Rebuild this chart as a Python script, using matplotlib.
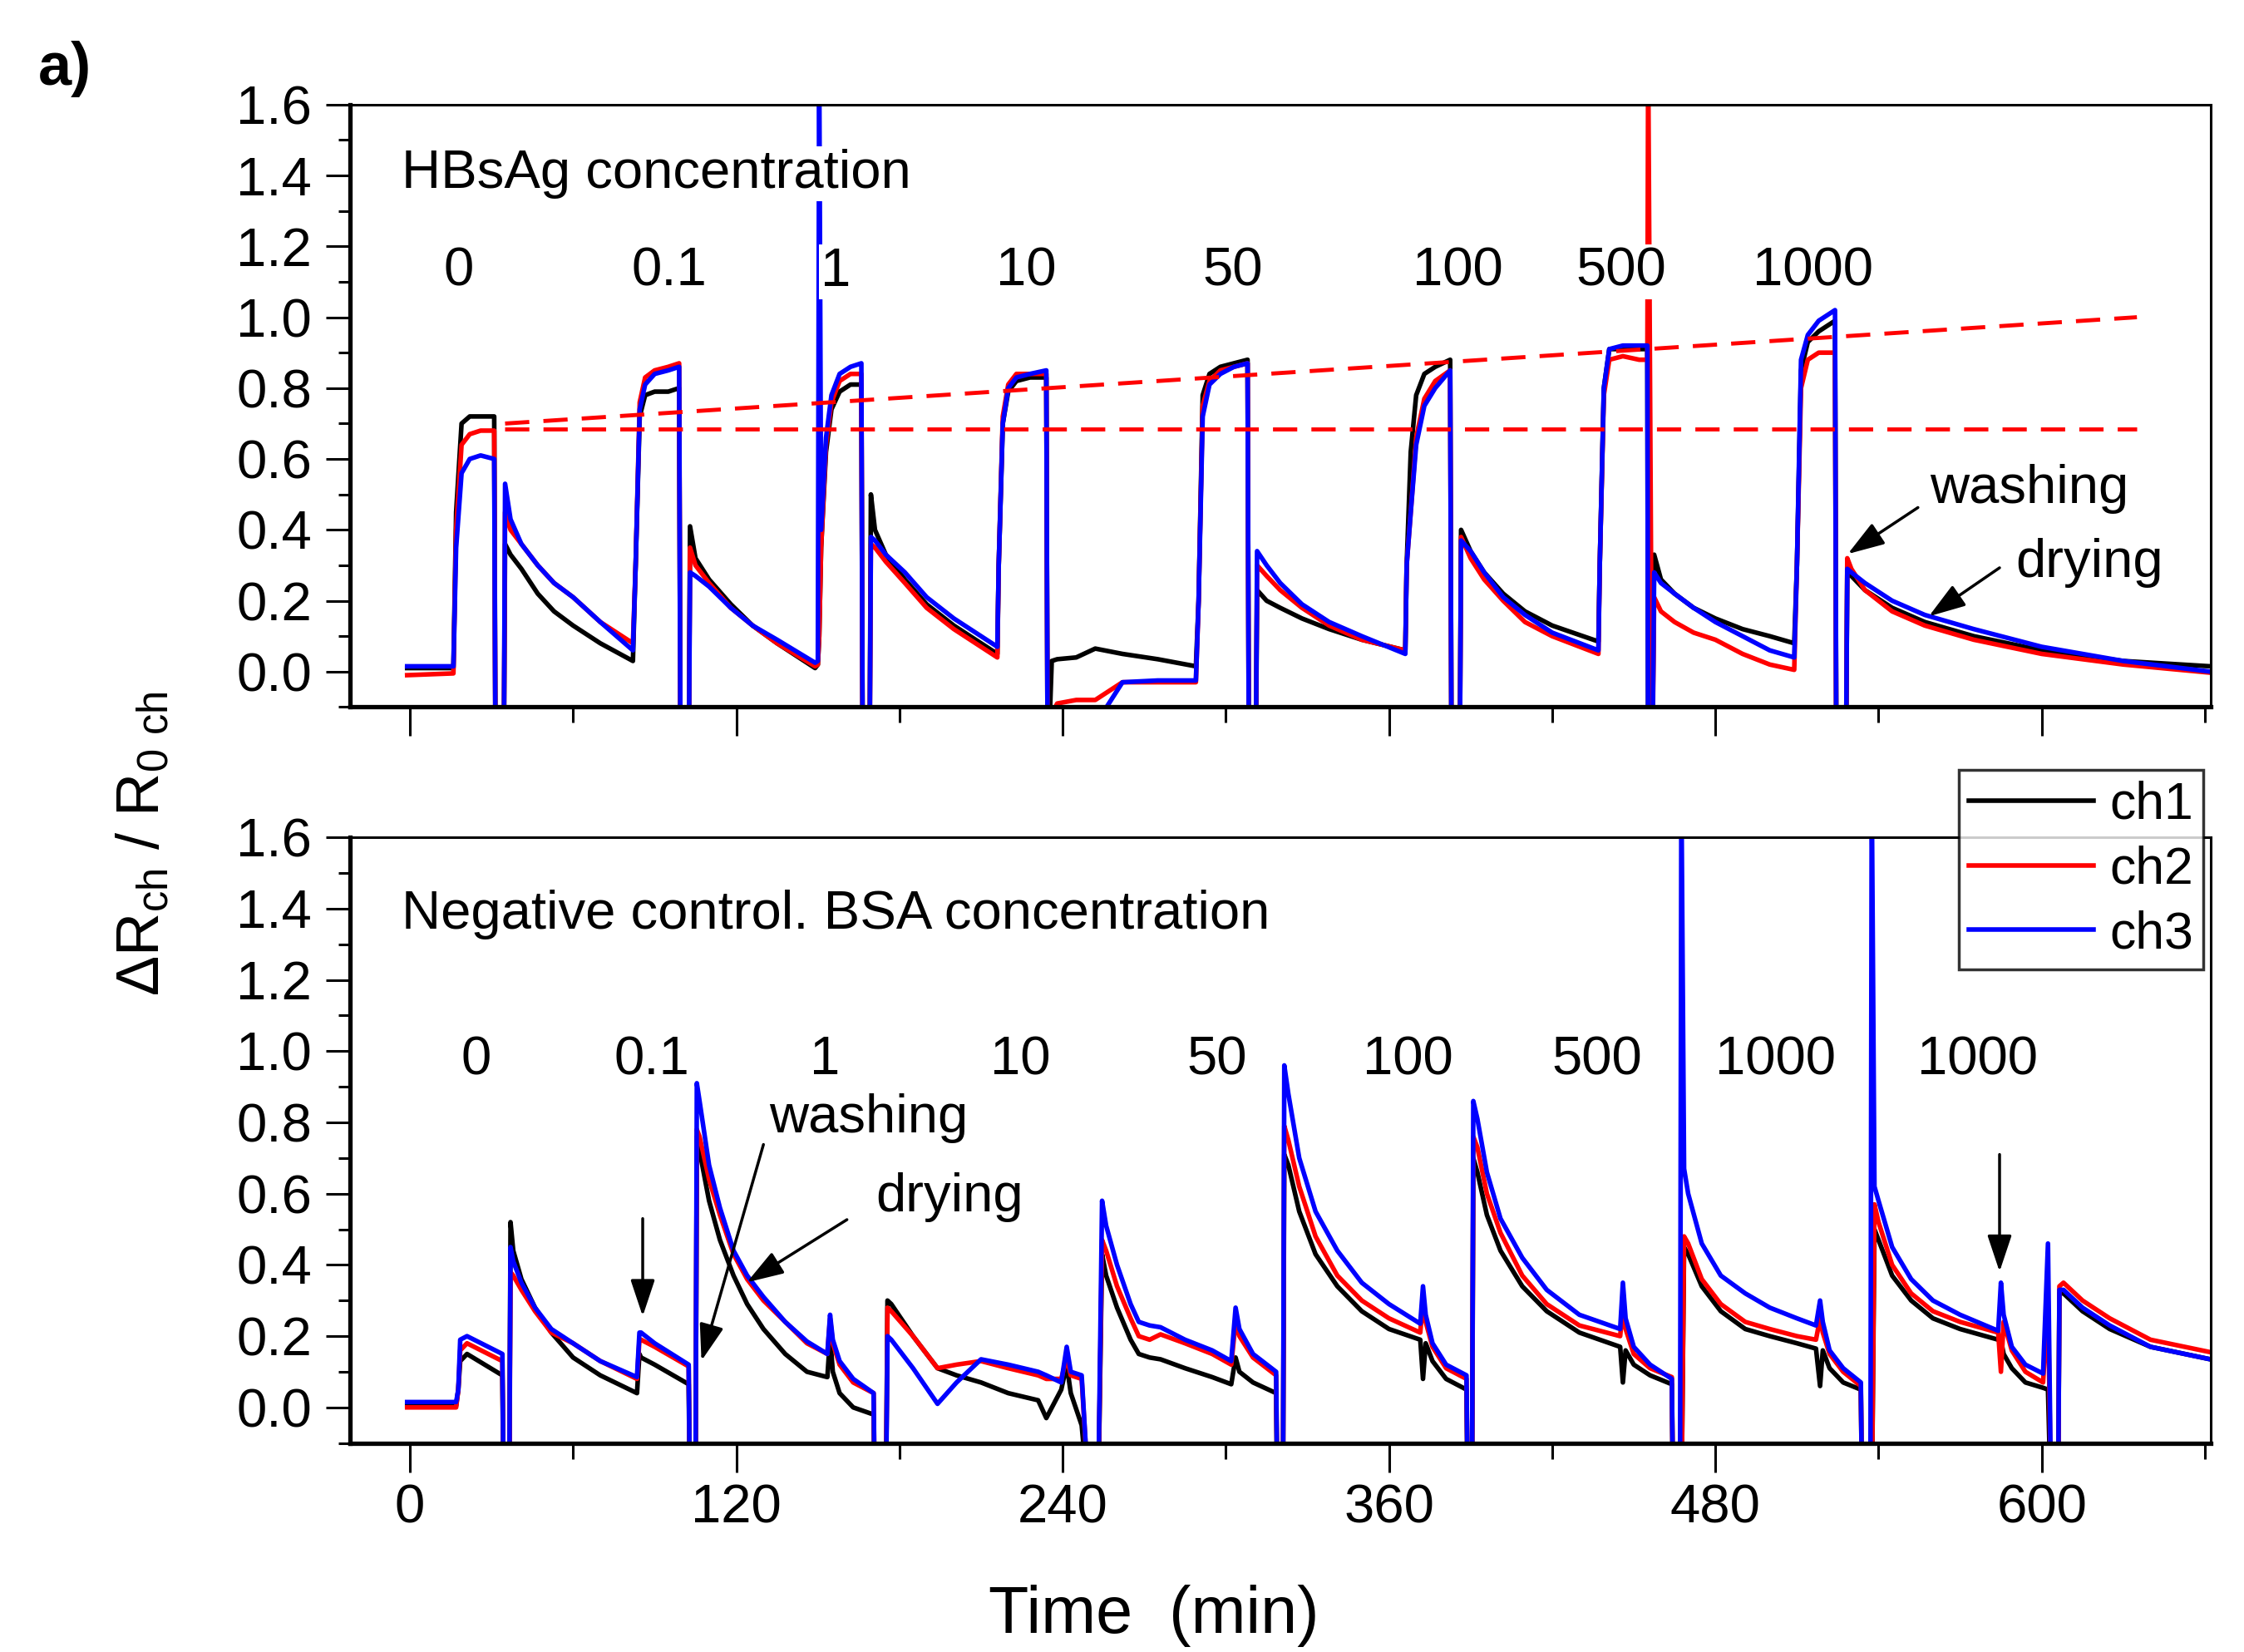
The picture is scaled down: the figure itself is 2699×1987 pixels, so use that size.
import matplotlib
matplotlib.use("Agg")
import matplotlib.pyplot as plt
from matplotlib.ticker import MultipleLocator

plt.rcParams['font.family'] = ['Liberation Sans', 'DejaVu Sans']
plt.rcParams['mathtext.default'] = 'regular'

# ---- data (time in min, dR/R0) ----
top_t = [
    -1, 16,
    17, 19, 22, 26, 31,
    31.5, 34.5,
    35, 37, 41, 47, 53, 60, 70, 82,
    83, 84.5, 86.5, 90, 95, 99,
    99.5, 102.5,
    103, 105, 110, 118, 126, 135, 149,
    150, 150.5, 151.2, 153, 155, 158, 162, 166,
    166.5, 169,
    169.5, 171, 175, 182, 190, 200, 216,
    216.5, 218, 220, 223, 228, 234,
    234.5, 236, 238, 245, 252, 262, 275, 289,
    290, 291.5, 294, 298, 303, 308,
    308.5, 311,
    311.5, 315, 320, 328, 338, 350, 366,
    366.5, 368, 370, 373, 377, 382.5,
    383, 386,
    386.5, 390, 395, 402, 410, 420, 437,
    437.5, 439, 441, 446, 452, 455,
    455.3, 456.8,
    457.5, 460, 465, 472, 480, 490, 500, 509,
    510, 511.5, 514, 518, 524,
    524.5, 528,
    528.5, 530, 535, 545, 557, 575, 600, 630, 662,
]
top_ch1 = [
    0.01, 0.01,
    0.45, 0.70, 0.72, 0.72, 0.72,
    -0.3, -0.3,
    0.36, 0.33, 0.29, 0.22, 0.17, 0.13, 0.08, 0.03,
    0.30, 0.72, 0.78, 0.79, 0.79, 0.80,
    -0.3, -0.3,
    0.41, 0.32, 0.26, 0.19, 0.13, 0.08, 0.01,
    0.02, 0.10, 0.35, 0.62, 0.74, 0.79, 0.81, 0.81,
    -0.3, -0.3,
    0.50, 0.40, 0.33, 0.26, 0.19, 0.13, 0.05,
    0.30, 0.70, 0.79, 0.82, 0.83, 0.83,
    -0.3, 0.03, 0.035, 0.04, 0.065, 0.05, 0.035, 0.015,
    0.20, 0.78, 0.84, 0.86, 0.87, 0.88,
    -0.3, -0.3,
    0.23, 0.20, 0.18, 0.15, 0.12, 0.09, 0.06,
    0.30, 0.62, 0.78, 0.84, 0.86, 0.88,
    -0.3, -0.3,
    0.40, 0.34, 0.28, 0.22, 0.17, 0.13, 0.085,
    0.30, 0.80, 0.91, 0.91, 0.91, 0.91,
    -0.3, -0.3,
    0.33, 0.26, 0.22, 0.18, 0.15, 0.12, 0.10, 0.08,
    0.30, 0.85, 0.93, 0.96, 0.99,
    -0.3, -0.3,
    0.29, 0.27, 0.23, 0.18, 0.14, 0.10, 0.06, 0.03, 0.015,
]
top_ch2 = [
    -0.01, -0.005,
    0.40, 0.64, 0.67, 0.68, 0.68,
    -0.3, -0.3,
    0.45, 0.40, 0.36, 0.30, 0.25, 0.21, 0.14, 0.08,
    0.30, 0.76, 0.83, 0.85, 0.86, 0.87,
    -0.3, -0.3,
    0.35, 0.30, 0.25, 0.18, 0.13, 0.08, 0.015,
    0.02, 0.10, 0.35, 0.64, 0.76, 0.82, 0.84, 0.84,
    -0.3, -0.3,
    0.36, 0.35, 0.31, 0.25, 0.18, 0.12, 0.04,
    0.30, 0.72, 0.81, 0.84, 0.84, 0.84,
    -0.3, -0.12, -0.09, -0.08, -0.08, -0.03, -0.03, -0.03,
    0.20, 0.75, 0.82, 0.85, 0.86, 0.87,
    -0.3, -0.3,
    0.30, 0.27, 0.23, 0.18, 0.13, 0.09, 0.06,
    0.30, 0.45, 0.66, 0.77, 0.82, 0.85,
    -0.3, -0.3,
    0.38, 0.32, 0.26, 0.20, 0.14, 0.10, 0.05,
    0.30, 0.78, 0.88, 0.89, 0.88, 0.88,
    1.75, -0.3,
    0.21, 0.17, 0.14, 0.11, 0.09, 0.05, 0.02, 0.005,
    0.30, 0.80, 0.88, 0.90, 0.90,
    -0.3, -0.3,
    0.32, 0.29, 0.23, 0.17, 0.13, 0.09, 0.05, 0.02, -0.003,
]
top_ch3 = [
    0.015, 0.015,
    0.35, 0.56, 0.60, 0.61, 0.60,
    -0.3, -0.3,
    0.53, 0.43, 0.36, 0.30, 0.25, 0.21, 0.14, 0.06,
    0.30, 0.74, 0.81, 0.84, 0.85, 0.86,
    -0.3, -0.3,
    0.28, 0.27, 0.24, 0.18, 0.13, 0.09, 0.025,
    0.03, 1.75, 0.40, 0.66, 0.78, 0.84, 0.86, 0.87,
    -0.3, -0.3,
    0.38, 0.37, 0.33, 0.28, 0.21, 0.15, 0.07,
    0.30, 0.70, 0.80, 0.83, 0.84, 0.85,
    -0.3, -0.3, -0.3, -0.3, -0.15, -0.03, -0.025, -0.025,
    0.20, 0.72, 0.81, 0.84, 0.86, 0.87,
    -0.3, -0.3,
    0.34, 0.30, 0.25, 0.19, 0.14, 0.10, 0.05,
    0.30, 0.45, 0.64, 0.75, 0.80, 0.85,
    -0.3, -0.3,
    0.37, 0.34, 0.28, 0.21, 0.16, 0.11, 0.06,
    0.30, 0.80, 0.91, 0.92, 0.92, 0.92,
    -0.3, -0.3,
    0.28, 0.25, 0.22, 0.18, 0.14, 0.10, 0.06, 0.04,
    0.30, 0.88, 0.95, 0.99, 1.02,
    -0.3, -0.3,
    0.29, 0.28, 0.25, 0.20, 0.16, 0.12, 0.07, 0.03, 0.0,
]

bot_t = [
    -1, 17,
    17.8, 18.5, 21, 34,
    34.5, 36.5,
    37, 38, 41, 46, 52, 60, 70, 83.5,
    84.4, 85, 90, 102.5,
    103, 105,
    105.5, 106.5, 110, 114, 119, 124, 130, 138, 146, 153.5,
    154.5, 155.5, 158, 163, 170.5,
    171, 175,
    175.6, 177, 185, 194, 201, 210, 220, 231, 234, 239.5,
    241.5, 243, 247, 250, 253,
    254.5, 256, 260, 265, 268, 272, 276, 285, 295, 302,
    303.6, 305, 310, 318.5,
    319, 321,
    321.5, 323, 327, 333, 341, 350, 360, 371.5,
    372.5, 373.5, 376, 381, 388.5,
    389, 390.5,
    391, 392.5, 396, 401, 409, 418, 430, 445,
    446, 447, 450, 456, 464,
    464.5, 467,
    467.5, 468.5, 470, 475, 482, 491, 500, 510, 517,
    518.5, 519.5, 522, 527, 533.5,
    534, 537,
    537.5, 538.5, 540, 545, 552, 560, 570, 584,
    585, 586, 589, 594, 600.5,
    602.3, 603.5, 606,
    606.5, 608, 615, 625, 640, 662,
]
bot_ch1 = [
    0.005, 0.005,
    0.05, 0.13, 0.15, 0.09,
    -0.3, -0.3,
    0.52, 0.44, 0.36, 0.28, 0.21, 0.14, 0.09, 0.04,
    0.15, 0.14, 0.12, 0.065,
    -0.3, -0.3,
    0.76, 0.72, 0.58, 0.47, 0.37, 0.29, 0.22, 0.15, 0.10, 0.085,
    0.20, 0.10, 0.04, 0.0, -0.02,
    -0.3, -0.3,
    0.30, 0.29, 0.20, 0.11, 0.09, 0.07, 0.04, 0.02, -0.03, 0.05,
    0.12, 0.04, -0.05, -0.3, -0.3,
    0.43, 0.37, 0.28, 0.19, 0.15, 0.14, 0.135, 0.11, 0.085, 0.065,
    0.14, 0.10, 0.07, 0.04,
    -0.3, -0.3,
    0.71, 0.68, 0.55, 0.43, 0.34, 0.27, 0.22, 0.19,
    0.08, 0.18, 0.13, 0.08, 0.05,
    -0.3, -0.3,
    0.70, 0.66, 0.54, 0.44, 0.34, 0.27, 0.21, 0.17,
    0.07, 0.16, 0.12, 0.09, 0.065,
    -0.3, -0.3,
    -0.3, 0.45, 0.43, 0.34, 0.27, 0.22, 0.20, 0.18, 0.165,
    0.06, 0.16, 0.11, 0.07, 0.05,
    -0.3, -0.3,
    -0.3, 0.50, 0.47, 0.37, 0.30, 0.25, 0.22, 0.19,
    0.19, 0.15, 0.11, 0.07, 0.055,
    0.05, -0.3, -0.3,
    0.32, 0.32, 0.27, 0.22, 0.17, 0.135,
]
bot_ch2 = [
    0.0, 0.0,
    0.05, 0.16, 0.18, 0.13,
    -0.3, -0.3,
    0.38, 0.37, 0.33, 0.27, 0.21, 0.18, 0.13, 0.08,
    0.19, 0.19, 0.17, 0.115,
    -0.3, -0.3,
    0.78, 0.76, 0.64, 0.54, 0.43, 0.36, 0.30, 0.24, 0.18, 0.15,
    0.25, 0.18, 0.12, 0.07, 0.04,
    -0.3, -0.3,
    0.28, 0.27, 0.20, 0.11, 0.12, 0.13, 0.11, 0.09, 0.08, 0.08,
    0.14, 0.09, 0.08, -0.3, -0.3,
    0.47, 0.44, 0.34, 0.25, 0.20, 0.19, 0.205, 0.18, 0.15, 0.12,
    0.24, 0.20, 0.14, 0.09,
    -0.3, -0.3,
    0.79, 0.75, 0.62, 0.48, 0.37, 0.30, 0.25, 0.21,
    0.30, 0.24, 0.17, 0.11, 0.08,
    -0.3, -0.3,
    0.76, 0.73, 0.60, 0.49, 0.37, 0.29, 0.23, 0.20,
    0.28, 0.22, 0.15, 0.11, 0.085,
    -0.3, -0.3,
    -0.3, 0.48, 0.46, 0.36, 0.29, 0.24, 0.22, 0.20, 0.19,
    0.25, 0.21, 0.15, 0.10, 0.06,
    -0.3, -0.3,
    -0.3, 0.57, 0.52, 0.40, 0.32, 0.27, 0.24, 0.21,
    0.10, 0.24, 0.16, 0.10, 0.07,
    0.30, -0.3, -0.3,
    0.34, 0.35, 0.30, 0.25, 0.19, 0.155,
]
bot_ch3 = [
    0.015, 0.015,
    0.05, 0.19, 0.20, 0.15,
    -0.3, -0.3,
    0.45, 0.41, 0.35, 0.28, 0.22, 0.18, 0.13, 0.085,
    0.21, 0.21, 0.18, 0.12,
    -0.3, -0.3,
    0.91, 0.86, 0.68, 0.56, 0.44, 0.37, 0.31, 0.24, 0.185, 0.15,
    0.26, 0.19, 0.13, 0.08, 0.04,
    -0.3, -0.3,
    0.20, 0.19, 0.11, 0.01, 0.07, 0.135, 0.12, 0.10, 0.09, 0.07,
    0.17, 0.10, 0.09, -0.3, -0.3,
    0.58, 0.51, 0.40, 0.29, 0.24, 0.23, 0.225, 0.19, 0.16, 0.13,
    0.28, 0.22, 0.15, 0.10,
    -0.3, -0.3,
    0.96, 0.88, 0.70, 0.55, 0.44, 0.35, 0.29, 0.235,
    0.34, 0.26, 0.18, 0.12, 0.09,
    -0.3, -0.3,
    0.86, 0.81, 0.66, 0.53, 0.42, 0.33, 0.26, 0.22,
    0.35, 0.25, 0.17, 0.12, 0.08,
    -0.3, -0.3,
    1.75, 0.67, 0.60, 0.46, 0.37, 0.32, 0.28, 0.25, 0.23,
    0.30, 0.24, 0.16, 0.11, 0.07,
    -0.3, -0.3,
    1.75, 0.62, 0.58, 0.45, 0.36, 0.30, 0.26, 0.215,
    0.35, 0.26, 0.17, 0.12, 0.095,
    0.46, -0.3, -0.3,
    0.33, 0.33, 0.28, 0.23, 0.17, 0.135,
]

# red dashed guide lines in the top panel
guide_t = [35, 635]
guide_flat = [0.684, 0.684]
guide_slope = [0.70, 1.0]

top_labels = ['0', '0.1', '1', '10', '50', '100', '500', '1000']
top_label_t = [17.9, 95.2, 156.7, 226.6, 302.4, 385.4, 445.4, 515.9]
bot_labels = ['0', '0.1', '1', '10', '50', '100', '500', '1000', '1000']
bot_label_t = [24.2, 88.9, 152.5, 224.5, 296.6, 367, 436.4, 502.2, 576.3]

colors = ['black', 'red', 'blue']
names = ['ch1', 'ch2', 'ch3']

fig = plt.figure(figsize=(26.99, 19.87), dpi=100)
ax1 = fig.add_axes([0.156, 0.572, 0.829, 0.3647])
ax2 = fig.add_axes([0.156, 0.1265, 0.829, 0.3666])

FS = 47
LW = 4

def style(ax, show_xlabels):
    ax.set_xlim(-22, 662)
    ax.set_ylim(-0.1, 1.6)
    ax.xaxis.set_major_locator(MultipleLocator(120))
    ax.xaxis.set_minor_locator(MultipleLocator(60))
    ax.yaxis.set_major_locator(MultipleLocator(0.2))
    ax.yaxis.set_minor_locator(MultipleLocator(0.1))
    ax.yaxis.set_major_formatter(plt.FormatStrFormatter('%.1f'))
    ax.tick_params(axis='y', which='major', direction='out', length=21, width=2.2,
                   labelsize=FS, pad=12)
    ax.tick_params(axis='y', which='minor', direction='out', length=10, width=2.2)
    ax.tick_params(axis='x', which='major', direction='out', length=25, width=2.2,
                   labelsize=FS, pad=10, labelbottom=show_xlabels)
    ax.tick_params(axis='x', which='minor', direction='out', length=14, width=2.2)
    for s in ['left', 'bottom']:
        ax.spines[s].set_linewidth(3.8)
    for s in ['top', 'right']:
        ax.spines[s].set_linewidth(2.2)

style(ax1, False)
style(ax2, True)

for vals, c in zip([top_ch1, top_ch2, top_ch3], colors):
    ax1.plot(top_t, vals, color=c, lw=LW)
ax1.plot(guide_t, guide_flat, color='red', lw=3.5, ls=(0, (6, 3.5)))
ax1.plot(guide_t, guide_slope, color='red', lw=3.5, ls=(0, (6, 3.5)))

lines = []
for vals, c, n in zip([bot_ch1, bot_ch2, bot_ch3], colors, names):
    ln, = ax2.plot(bot_t, vals, color=c, lw=LW, label=n)
    lines.append(ln)

wbox = dict(facecolor='white', edgecolor='none', pad=2)
ax1.text(-3, 1.405, 'HBsAg concentration', fontsize=FS, ha='left', va='center', bbox=wbox)
for lab, t in zip(top_labels, top_label_t):
    ax1.text(t, 1.128, lab, fontsize=FS, ha='center', va='center', bbox=wbox)

ax2.text(-3, 1.383, 'Negative control. BSA concentration', fontsize=FS, ha='left', va='center')
for lab, t in zip(bot_labels, bot_label_t):
    ax2.text(t, 0.975, lab, fontsize=FS, ha='center', va='center')

arw = dict(arrowstyle='-|>,head_length=0.9,head_width=0.3', color='black', lw=2.5,
           shrinkA=0, shrinkB=0, mutation_scale=30)
ax1.text(559, 0.516, 'washing', fontsize=FS, ha='left', va='center')
ax1.text(590.5, 0.306, 'drying', fontsize=FS, ha='left', va='center')
ax1.annotate('', xy=(528.7, 0.332), xytext=(554.5, 0.463), arrowprops=arw)
ax1.annotate('', xy=(558.5, 0.156), xytext=(584.5, 0.293), arrowprops=arw)

ax2.text(132, 0.812, 'washing', fontsize=FS, ha='left', va='center')
ax2.text(171.4, 0.591, 'drying', fontsize=FS, ha='left', va='center')
ax2.annotate('', xy=(107.2, 0.131), xytext=(130, 0.738), arrowprops=arw)
ax2.annotate('', xy=(123.9, 0.351), xytext=(160.7, 0.527), arrowprops=arw)
ax2.annotate('', xy=(85.6, 0.256), xytext=(85.6, 0.53), arrowprops=arw)
ax2.annotate('', xy=(584.5, 0.381), xytext=(584.5, 0.71), arrowprops=arw)

leg = fig.legend(handles=lines, loc='upper right', bbox_to_anchor=(0.982, 0.5338),
                 fontsize=45, frameon=True, fancybox=False, borderpad=0.2,
                 handlelength=2.4, handletextpad=0.3, labelspacing=0.3,
                 borderaxespad=0)
leg.get_frame().set_edgecolor('black')
leg.get_frame().set_linewidth(2.5)
for ln in leg.get_lines():
    ln.set_linewidth(LW)

# x label sits left of the axes centre in the original
fig.text(0.514, 0.022, 'Time  (min)', fontsize=57, ha='center', va='center')
fig.text(0.064, 0.489, r'$\Delta R_{ch}$ / $R_{0\ ch}$', rotation=90, fontsize=52,
         ha='center', va='center')
fig.text(0.017, 0.958, 'a)', fontsize=52, fontweight='bold', ha='left', va='center')

fig.savefig('out.png', dpi=100)
